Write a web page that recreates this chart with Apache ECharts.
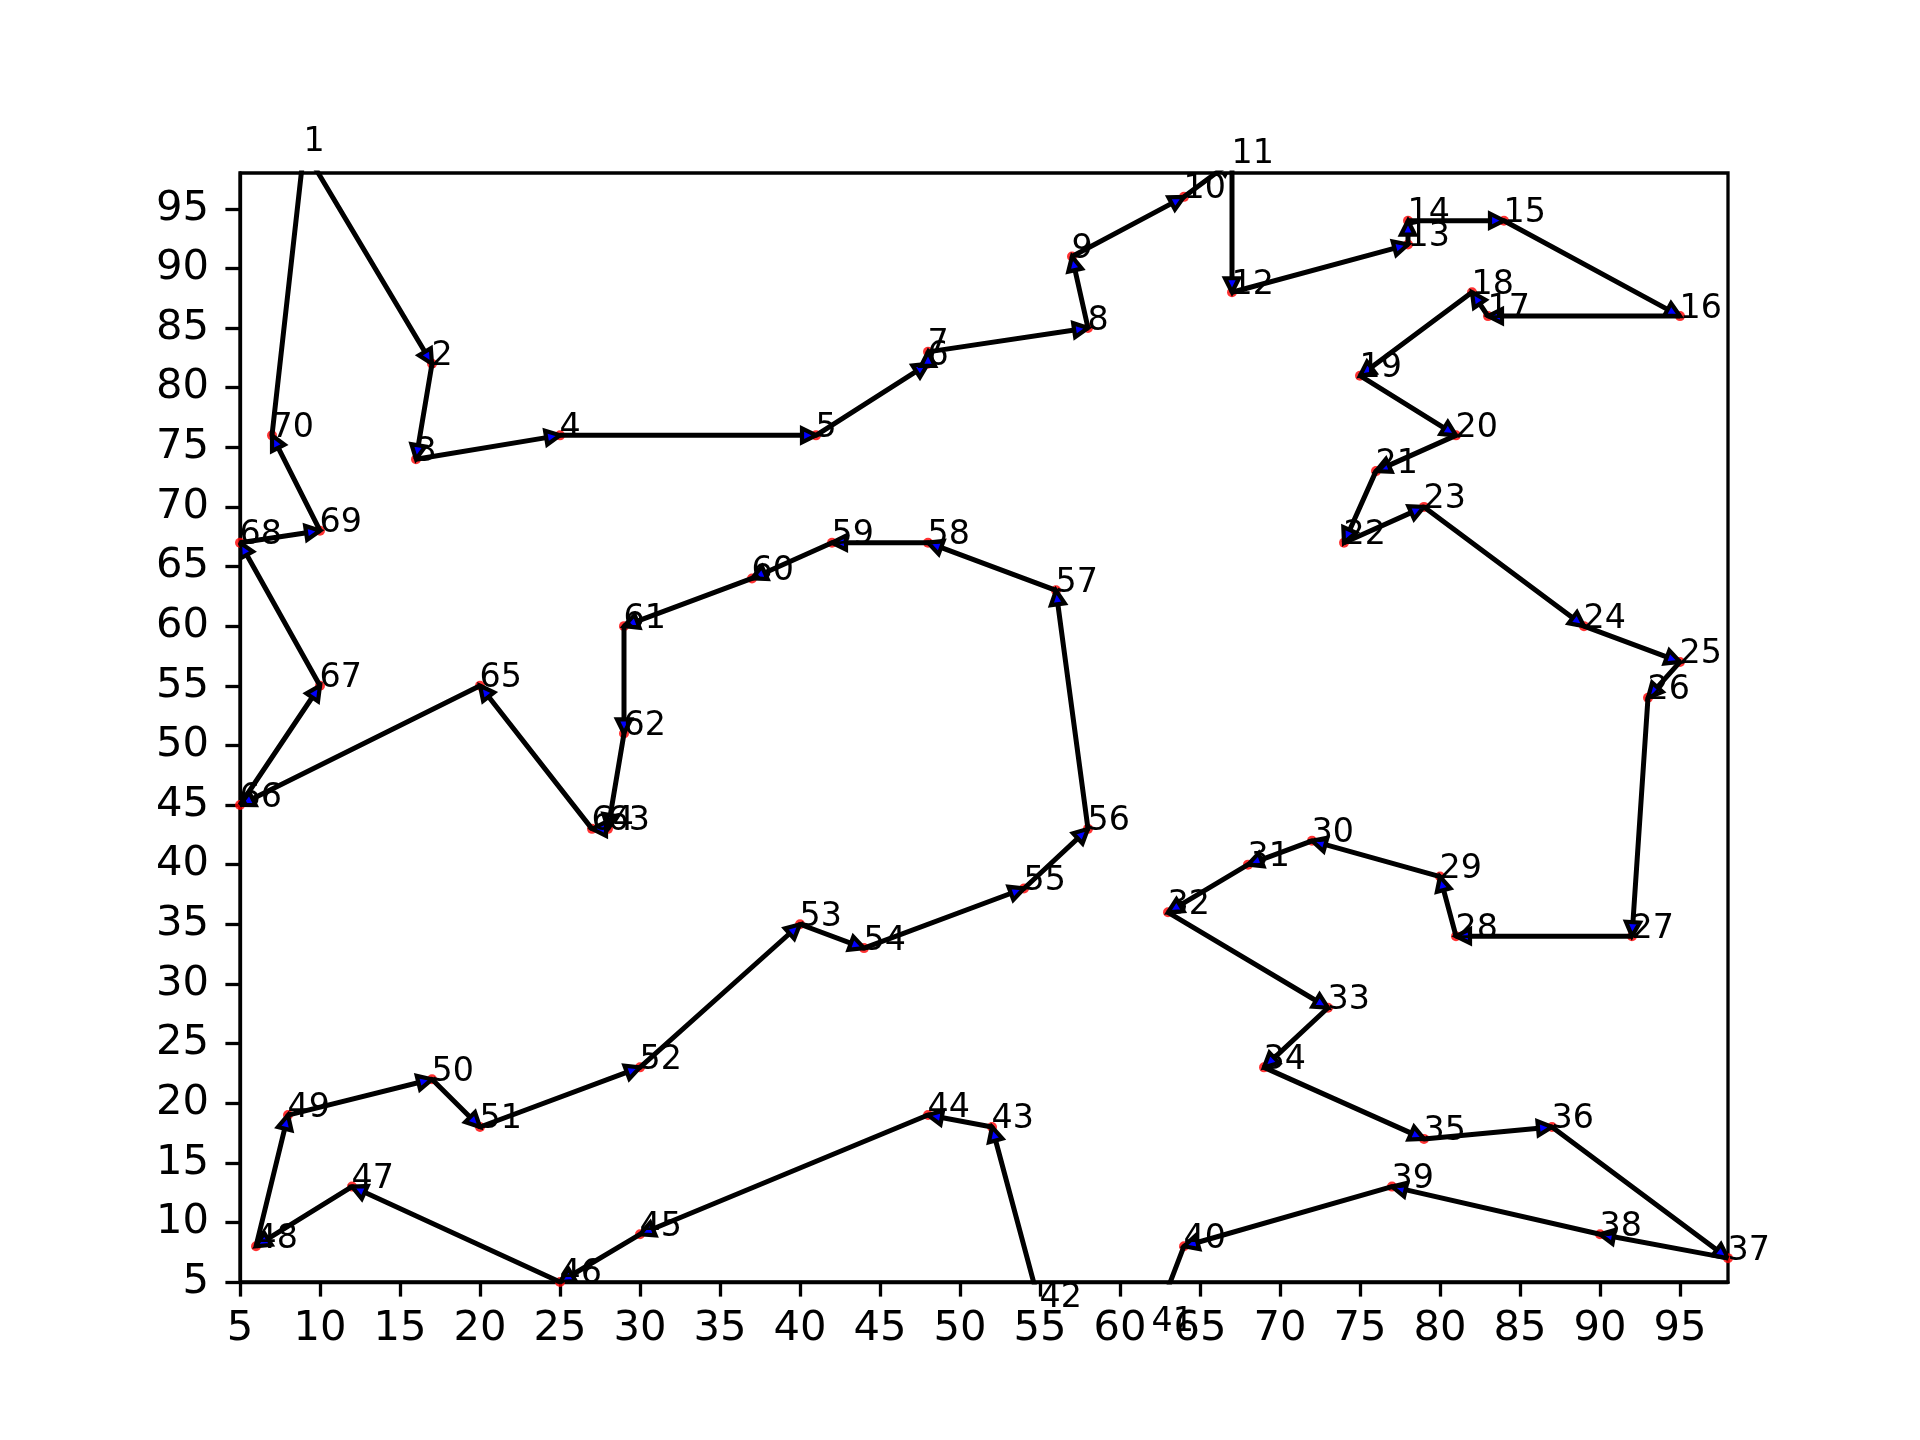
<!DOCTYPE html>
<html>
<head>
<meta charset="utf-8">
<script src="https://cdn.jsdelivr.net/npm/echarts@6/dist/echarts.min.js"></script>
<style>
html,body{margin:0;padding:0;background:#fff;}
#c{width:1920px;height:1440px;}
</style>
</head>
<body>
<div id="c"></div>
<script>
// City labels (route order) and their coordinates
const cityNames = ['1','2','3','4','5','6','7','8','9','10','11','12','13','14','15','16','17','18','19','20','21','22','23','24','25','26','27','28','29','30','31','32','33','34','35','36','37','38','39','40','41','42','43','44','45','46','47','48','49','50','51','52','53','54','55','56','57','58','59','60','61','62','63','64','65','66','67','68','69','70'];
const cityX = [9,17,16,25,41,48,48,58,57,64,67,67,78,78,84,95,83,82,75,81,76,74,79,89,95,93,92,81,80,72,68,63,73,69,79,87,98,90,77,64,62,55,52,48,30,25,12,6,8,17,20,30,40,44,54,58,56,48,42,37,29,29,28,27,20,5,10,5,10,7];
const cityY = [100,82,74,76,76,82,83,85,91,96,99,88,92,94,94,86,86,88,81,76,73,67,70,60,57,54,34,34,39,42,40,36,28,23,17,18,7,9,13,8,1,3,18,19,9,5,13,8,19,22,18,23,35,33,38,43,63,67,67,64,60,51,43,43,55,45,55,67,68,76];
const xTicks = [5,10,15,20,25,30,35,40,45,50,55,60,65,70,75,80,85,90,95];
const yTicks = [5,10,15,20,25,30,35,40,45,50,55,60,65,70,75,80,85,90,95];

const pts = cityX.map((x,i)=>[x, cityY[i]]);
const routePts = pts.concat([pts[0]]);
const segs = [];
for (let i = 0; i < pts.length; i++) {
  const a = pts[i], b = pts[(i+1) % pts.length];
  segs.push([a[0], a[1], b[0], b[1]]);
}

const FONT = 'DejaVu Sans';
const chart = echarts.init(document.getElementById('c'), null, {renderer:'canvas'});
chart.setOption({
  backgroundColor:'#ffffff',
  animation:false,
  grid:{left:240, right:192, top:173, bottom:158, show:true, borderColor:'#000', borderWidth:3.3, backgroundColor:'transparent'},
  xAxis:{type:'value', min:5, max:98, interval:5,
    axisLine:{show:true, onZero:false, lineStyle:{color:'#000', width:3.3}},
    axisTick:{show:true, inside:false, length:14.6, customValues:xTicks, lineStyle:{color:'#000', width:3.3}},
    axisLabel:{show:true, margin:26, customValues:xTicks, color:'#000', fontFamily:FONT, fontSize:41.7},
    splitLine:{show:false}},
  yAxis:{type:'value', min:5, max:98, interval:5,
    axisLine:{show:true, onZero:false, lineStyle:{color:'#000', width:3.3}},
    axisTick:{show:true, inside:false, length:14.6, customValues:yTicks, lineStyle:{color:'#000', width:3.3}},
    axisLabel:{show:true, margin:31, customValues:yTicks, color:'#000', fontFamily:FONT, fontSize:41.7},
    splitLine:{show:false}},
  series:[
    {type:'scatter', z:1, data:pts, symbol:'circle', symbolSize:10,
      itemStyle:{color:'#ff0000'}, clip:true, silent:true},
    {type:'line', z:2, data:routePts, symbol:'none', clip:true,
      lineStyle:{color:'#000', width:5}, silent:true},
    {type:'custom', z:3, clip:true, silent:true, data:segs,
      encode:{x:[0,2], y:[1,3]},
      renderItem:function(params, api){
        const p1 = api.coord([api.value(0), api.value(1)]);
        const p2 = api.coord([api.value(2), api.value(3)]);
        const dx = p2[0]-p1[0], dy = p2[1]-p1[1];
        const len = Math.sqrt(dx*dx+dy*dy) || 1;
        const ux = dx/len, uy = dy/len;
        const L = 14, W = 7;
        const bx = p2[0]-ux*L, by = p2[1]-uy*L;
        const c1 = [bx - uy*W, by + ux*W];
        const c2 = [bx + uy*W, by - ux*W];
        const cs = params.coordSys;
        return {type:'polygon', shape:{points:[p2, c1, c2]},
          clipPath:{type:'rect', shape:{x:cs.x, y:cs.y, width:cs.width, height:cs.height}},
          style:{fill:'#0000ff', stroke:'#000', lineWidth:4.2, lineJoin:'miter'}};
      }},
    {type:'scatter', z:4, clip:false, silent:true,
      data:pts.map((p,i)=>({value:p, name:cityNames[i]})),
      symbol:'circle', symbolSize:1, itemStyle:{color:'rgba(0,0,0,0)'},
      label:{show:true, formatter:function(p){return p.name;}, position:[0,0],
        align:'left', verticalAlign:'bottom', offset:[0,10],
        color:'#000000', opacity:1, fontFamily:FONT, fontSize:33.3, lineHeight:33.3}}
  ]
});
</script>
</body>
</html>
